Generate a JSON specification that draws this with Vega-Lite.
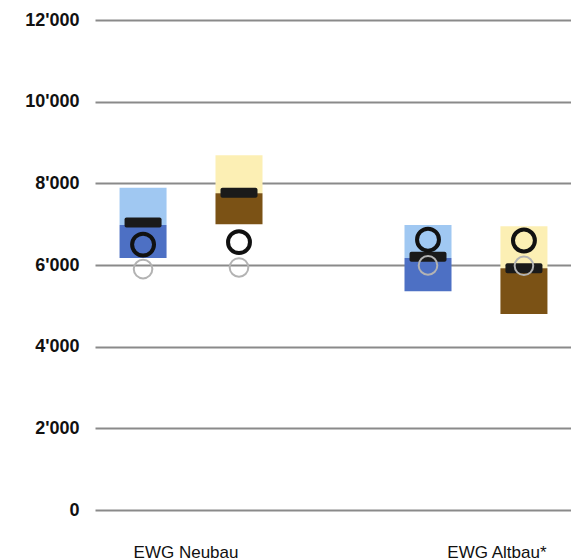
{
  "$schema": "https://vega.github.io/schema/vega-lite/v6.json",
  "autosize": "none",
  "width": 477,
  "height": 490,
  "padding": {"left": 95, "top": 20, "right": 0, "bottom": 50},
  "background": "white",
  "config": {
    "view": {"stroke": null},
    "font": "Liberation Sans",
    "axisY": {
      "domain": false,
      "ticks": false,
      "grid": true,
      "gridColor": "#8a8a8a",
      "gridWidth": 2,
      "labelFont": "Liberation Sans",
      "labelFontSize": 18,
      "labelFontWeight": "bold",
      "labelColor": "#111111",
      "labelPadding": 16
    },
    "axisX": {
      "domain": false,
      "ticks": false,
      "grid": false,
      "labelFont": "Liberation Sans",
      "labelFontSize": 17,
      "labelColor": "#111111",
      "labelBaseline": "alphabetic",
      "labelPadding": 47,
      "labelAngle": 0
    }
  },
  "data": {
    "values": [
      {"gruppe": "EWG Neubau", "serie": "blau", "unten": 6170, "mitte": 6980, "oben": 7890, "marke": 7040, "kreis_schwarz": 6500, "kreis_grau": 5900},
      {"gruppe": "EWG Neubau", "serie": "braun", "unten": 7000, "mitte": 7760, "oben": 8690, "marke": 7770, "kreis_schwarz": 6560, "kreis_grau": 5940},
      {"gruppe": "EWG Altbau*", "serie": "blau", "unten": 5360, "mitte": 6170, "oben": 6980, "marke": 6200, "kreis_schwarz": 6620, "kreis_grau": 5990},
      {"gruppe": "EWG Altbau*", "serie": "braun", "unten": 4800, "mitte": 5920, "oben": 6950, "marke": 5920, "kreis_schwarz": 6600, "kreis_grau": 5980}
    ]
  },
  "encoding": {
    "x": {
      "field": "gruppe",
      "type": "nominal",
      "title": null,
      "scale": {"domain": ["EWG Neubau", "EWG Altbau*"], "paddingInner": 0.4, "paddingOuter": 0.037},
      "axis": {
        "labelOffset": {"condition": {"test": "datum.value === 'EWG Neubau'", "value": -5}, "value": 21}
      }
    },
    "xOffset": {
      "field": "serie",
      "type": "nominal",
      "scale": {"domain": ["blau", "braun"], "paddingInner": 0.51, "paddingOuter": 0.146}
    }
  },
  "layer": [
    {
      "mark": {"type": "bar"},
      "encoding": {
        "y": {
          "field": "mitte", "type": "quantitative", "title": null,
          "scale": {"domain": [0, 12000], "nice": false, "zero": true},
          "axis": {
            "values": [0, 2000, 4000, 6000, 8000, 10000, 12000],
            "labelExpr": "replace(format(datum.value, ','), ',', \"'\")"
          }
        },
        "y2": {"field": "oben"},
        "color": {"condition": {"test": "datum.serie === 'blau'", "value": "#a0c8f2"}, "value": "#fcefb4"}
      }
    },
    {
      "mark": {"type": "bar"},
      "encoding": {
        "y": {"field": "unten", "type": "quantitative", "title": null},
        "y2": {"field": "mitte"},
        "color": {"condition": {"test": "datum.serie === 'blau'", "value": "#4d70c4"}, "value": "#7b5215"}
      }
    },
    {
      "mark": {"type": "tick", "orient": "horizontal", "size": 37, "thickness": 10, "cornerRadius": 2, "color": "#1a1a1a", "opacity": 1},
      "encoding": {
        "y": {"field": "marke", "type": "quantitative", "title": null}
      }
    },
    {
      "mark": {"type": "point", "shape": "circle", "filled": false, "stroke": "#111111", "strokeWidth": 4, "size": 480, "opacity": 1},
      "encoding": {
        "y": {"field": "kreis_schwarz", "type": "quantitative", "title": null}
      }
    },
    {
      "mark": {"type": "point", "shape": "circle", "filled": false, "stroke": "#b3b3b3", "strokeWidth": 2, "size": 346, "opacity": 1},
      "encoding": {
        "y": {"field": "kreis_grau", "type": "quantitative", "title": null}
      }
    }
  ]
}
